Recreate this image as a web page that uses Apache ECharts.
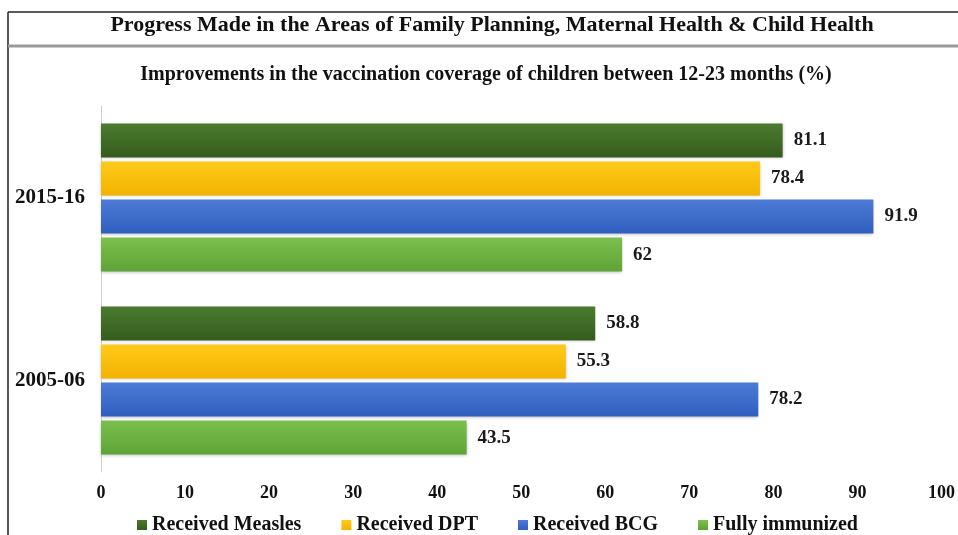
<!DOCTYPE html>
<html>
<head>
<meta charset="utf-8">
<script src="https://cdn.jsdelivr.net/npm/echarts@6/dist/echarts.min.js"></script>
<style>
  html, body { margin: 0; padding: 0; background: #fff; }
  #chart { width: 958px; height: 535px; }
</style>
</head>
<body>
<div id="chart"></div>
<script>
// data
var years = ['2015-16', '2005-06'];
var seriesNames = ['Received Measles', 'Received DPT', 'Received BCG', 'Fully immunized'];
var measles = [81.1, 58.8];
var dpt = [78.4, 55.3];
var bcg = [91.9, 78.2];
var fully = [62, 43.5];
var xTicks = [0, 10, 20, 30, 40, 50, 60, 70, 80, 90, 100];

var font = '"Liberation Serif", "Times New Roman", serif';

// top / bottom gradient colour for each series
var colors = [
  ['#4b7b2f', '#355c1d'],
  ['#ffca1a', '#f2b300'],
  ['#4d7bd6', '#2f5ebf'],
  ['#7bc04c', '#5ea337']
];

function grad(c) {
  return new echarts.graphic.LinearGradient(0, 0, 0, 1, [
    { offset: 0, color: c[0] },
    { offset: 1, color: c[1] }
  ]);
}

var values = [measles, dpt, bcg, fully];

var series = seriesNames.map(function (name, i) {
  return {
    name: name,
    type: 'bar',
    barWidth: 34,
    barGap: '12%',
    data: values[i],
    itemStyle: {
      color: grad(colors[i]),
      shadowColor: 'rgba(0,0,0,0.25)',
      shadowBlur: 3,
      shadowOffsetY: 1
    },
    label: {
      show: true,
      position: 'right',
      distance: 11,
      fontFamily: font,
      fontWeight: 'bold',
      fontSize: 19,
      color: '#1a1a1a'
    }
  };
});

var chart = echarts.init(document.getElementById('chart'));
chart.setOption({
  animation: false,
  color: colors.map(function (c) { return c[1]; }),
  title: [
    {
      text: 'Progress Made in the Areas of Family Planning, Maternal Health & Child Health',
      left: 492,
      textAlign: 'center',
      top: 14,
      padding: 0,
      textStyle: { fontFamily: font, fontWeight: 'bold', fontSize: 22, color: '#111' }
    },
    {
      text: 'Improvements in the vaccination coverage of children between 12-23 months (%)',
      left: 486,
      textAlign: 'center',
      top: 65,
      padding: 0,
      textStyle: { fontFamily: font, fontWeight: 'bold', fontSize: 20, color: '#111' }
    }
  ],
  graphic: [
    { type: 'line', shape: { x1: 8, y1: 12, x2: 958, y2: 12 }, style: { stroke: '#222', lineWidth: 1.5 } },
    { type: 'line', shape: { x1: 8, y1: 12, x2: 8, y2: 535 }, style: { stroke: '#222', lineWidth: 1.5 } },
    { type: 'line', shape: { x1: 8, y1: 46, x2: 958, y2: 46 }, style: { stroke: '#999', lineWidth: 3 } }
  ],
  legend: {
    data: seriesNames,
    top: 515,
    left: 137,
    padding: 0,
    icon: 'rect',
    itemWidth: 10,
    itemHeight: 10,
    itemGap: 40,
    textStyle: { fontFamily: font, fontWeight: 'bold', fontSize: 20, color: '#111' }
  },
  grid: {
    left: 101,
    right: 13,
    top: 106,
    bottom: 63
  },
  xAxis: {
    type: 'value',
    min: 0,
    max: 100,
    interval: 10,
    axisLine: { show: false },
    axisTick: { show: false },
    splitLine: { show: false },
    axisLabel: {
      margin: 12,
      fontFamily: font,
      fontWeight: 'bold',
      fontSize: 18,
      color: '#111',
      formatter: function (v) { return xTicks.indexOf(v) >= 0 ? String(v) : ''; }
    }
  },
  yAxis: {
    type: 'category',
    inverse: true,
    data: years,
    axisLine: { show: true, lineStyle: { color: '#cfcfcf', width: 1 } },
    axisTick: { show: false },
    axisLabel: {
      margin: 16,
      fontFamily: font,
      fontWeight: 'bold',
      fontSize: 21,
      color: '#111'
    }
  },
  series: series
});
</script>
</body>
</html>
